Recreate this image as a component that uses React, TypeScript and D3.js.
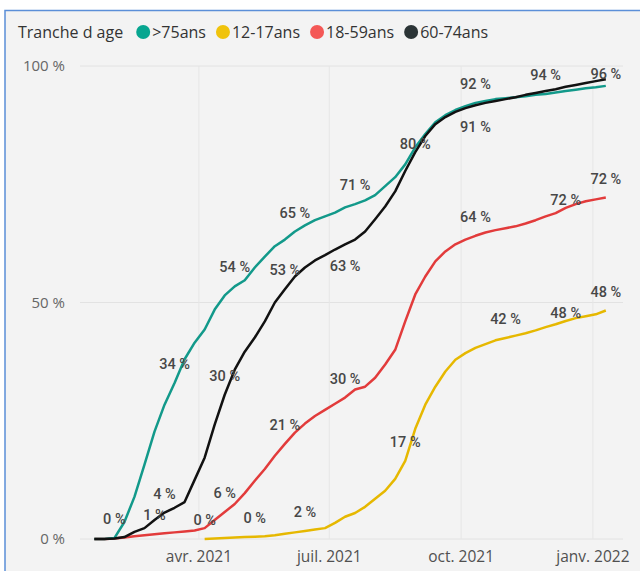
import { useRef, useEffect } from 'react';
import * as d3 from 'd3';

// weekly points, Monday 18 Jan 2021 -> Monday 10 Jan 2022
const weeks = d3.timeMonday.range(new Date(2021, 0, 18), new Date(2022, 0, 11));

const seriesNames = ['>75ans', '12-17ans', '18-59ans', '60-74ans'];

// % of the age band vaccinated (cumulative)
const over75 = [0, 0, 0.2, 3.6, 8.9, 15.7, 22.7, 28.4, 33, 38, 41.5, 44.3, 48.5, 51.5, 53.4, 54.7, 57.4, 59.7, 61.9, 63.3,
  65, 66.3, 67.4, 68.2, 69, 70.1, 70.8, 71.6, 72.7, 74.6, 76.5, 79.2, 82.8, 85.6, 88.1, 89.6, 90.7, 91.5, 92.2, 92.6,
  93, 93.2, 93.4, 93.6, 93.9, 94.1, 94.4, 94.7, 95, 95.3, 95.5, 95.8];
const age12to17 = [null, null, null, null, null, null, null, null, null, null, null,
  0, 0.1, 0.2, 0.3, 0.4, 0.5, 0.6, 0.8, 1.1, 1.4, 1.7, 2.0, 2.3, 3.4, 4.7, 5.5, 6.8, 8.5, 10.2, 12.7,
  16.5, 23.3, 28.4, 32.2, 35.4, 37.9, 39.3, 40.4, 41.2, 42.0, 42.5, 43.0, 43.5, 44.1, 44.8, 45.4, 46.1, 46.7, 47.1, 47.5, 48.3];
const age18to59 = [0, 0, 0.1, 0.3, 0.6, 0.8, 1.0, 1.2, 1.4, 1.6, 1.8, 2.3, 4.0, 5.7, 7.4, 9.7, 12.3, 14.8, 17.6, 20.1,
  22.5, 24.4, 26.0, 27.3, 28.6, 29.9, 31.6, 32.2, 34.1, 36.9, 40.0, 46.0, 51.7, 55.5, 58.7, 60.8, 62.3, 63.3, 64.1, 64.8,
  65.3, 65.7, 66.1, 66.7, 67.4, 68.2, 68.9, 70.0, 70.8, 71.4, 71.8, 72.2];
const age60to74 = [0, 0, 0.1, 0.4, 1.5, 2.3, 4.0, 5.6, 6.6, 7.8, 12.5, 17.2, 24.2, 30.5, 35.8, 39.6, 42.6, 46, 50, 52.8,
  55.5, 57.4, 58.9, 60, 61.2, 62.3, 63.3, 65, 67.6, 70.3, 73.5, 77.8, 81.8, 85.2, 87.7, 89.2, 90.3, 91.1, 91.7, 92.2,
  92.6, 93, 93.4, 93.9, 94.3, 94.7, 95.1, 95.6, 96, 96.4, 96.8, 97.2];

// data labels shown on the chart: series index, week index, text, side
const dataLabels: [number, number, string, string][] = [
  [0, 2, '0 %', 'above'], [0, 8, '34 %', 'above'], [0, 14, '54 %', 'above'], [0, 20, '65 %', 'above'],
  [0, 26, '71 %', 'above'], [0, 38, '92 %', 'above'], [0, 45, '94 %', 'above'],
  [3, 7, '4 %', 'above'], [3, 13, '30 %', 'above'], [3, 19, '53 %', 'above'], [3, 25, '63 %', 'below'],
  [3, 32, '80 %', 'on'], [3, 38, '91 %', 'below'], [3, 51, '96 %', 'above'],
  [2, 6, '1 %', 'above'], [2, 13, '6 %', 'above'], [2, 19, '21 %', 'above'], [2, 25, '30 %', 'above'],
  [2, 38, '64 %', 'above'], [2, 47, '72 %', 'on'], [2, 51, '72 %', 'above'],
  [1, 11, '0 %', 'above'], [1, 16, '0 %', 'above'], [1, 21, '2 %', 'above'], [1, 31, '17 %', 'above'],
  [1, 41, '42 %', 'above'], [1, 47, '48 %', 'on'], [1, 51, '48 %', 'above'],
];

const xTicks = [new Date(2021, 3, 1), new Date(2021, 6, 1), new Date(2021, 9, 1), new Date(2022, 0, 1)];
const xTickLabels = ['avr. 2021', 'juil. 2021', 'oct. 2021', 'janv. 2022'];
const yTicks = [0, 50, 100];

const lineColors = ['#12998a', '#e6b800', '#e23b3b', '#111111'];
const dotColors = ['#07a690', '#f0c30c', '#f45856', '#2b3436'];

export default function App() {
  const svgRef = useRef<SVGSVGElement>(null);
  const width = 640;
  const height = 571;

  useEffect(() => {
    if (!svgRef.current) return;
    const svg = d3.select(svgRef.current);
    svg.selectAll('*').remove();

    const font = '"Open Sans", sans-serif';

    // card
    svg.append('rect')
      .attr('x', 5).attr('y', 10.5)
      .attr('width', width).attr('height', height)
      .attr('fill', '#f3f3f3')
      .attr('stroke', '#5b8fd8')
      .attr('stroke-width', 1.5);

    const x = d3.scaleTime()
      .domain([new Date(2021, 0, 8), new Date(2022, 0, 22)])
      .range([80, 623]);
    const y = d3.scaleLinear().domain([0, 100]).range([539, 66]);

    const g = svg.append('g');

    // grid
    g.selectAll('.hgrid')
      .data(yTicks)
      .join('line')
      .attr('x1', 80).attr('x2', 623)
      .attr('y1', (d) => y(d)).attr('y2', (d) => y(d))
      .attr('stroke', '#e2e2e2');
    g.selectAll('.vgrid')
      .data(xTicks)
      .join('line')
      .attr('x1', (d) => x(d)).attr('x2', (d) => x(d))
      .attr('y1', y(100)).attr('y2', y(0))
      .attr('stroke', '#e6e6e6');

    // axes labels
    g.selectAll('.ylab')
      .data(yTicks)
      .join('text')
      .attr('x', 65).attr('y', (d) => y(d))
      .attr('dy', '0.35em')
      .attr('text-anchor', 'end')
      .attr('font-family', font).attr('font-size', 15)
      .attr('fill', '#666')
      .text((d) => `${d} %`);
    g.selectAll('.xlab')
      .data(xTicks)
      .join('text')
      .attr('x', (d) => x(d)).attr('y', 557)
      .attr('dy', '0.35em')
      .attr('text-anchor', 'middle')
      .attr('font-family', font).attr('font-size', 15.5)
      .attr('fill', '#505050')
      .text((_, i) => xTickLabels[i]);

    // lines
    const allSeries = [over75, age12to17, age18to59, age60to74];
    const line = d3.line<number | null>()
      .defined((d) => d !== null)
      .x((_, i) => x(weeks[i]))
      .y((d) => y(d as number))
      .curve(d3.curveLinear);

    [1, 2, 0, 3].forEach((s) => {
      g.append('path')
        .datum(allSeries[s])
        .attr('fill', 'none')
        .attr('stroke', lineColors[s])
        .attr('stroke-width', 2.5)
        .attr('stroke-linejoin', 'round')
        .attr('d', line);
    });

    // data labels
    const offsets: Record<string, number> = { above: -19, below: 22, on: -8 };
    g.selectAll('.dlab')
      .data(dataLabels)
      .join('text')
      .attr('x', (d) => x(weeks[d[1]]))
      .attr('y', (d) => Math.max(y(100) + 8, y(allSeries[d[0]][d[1]] as number) + offsets[d[3]]))
      .attr('dy', '0.35em')
      .attr('text-anchor', 'middle')
      .attr('font-family', 'Roboto, sans-serif')
      .attr('font-weight', 500)
      .attr('font-size', 14.5)
      .attr('fill', '#474747')
      .text((d) => d[2]);

    // legend
    const legend = svg.append('g').attr('transform', 'translate(18,32)');
    const title = legend.append('text')
      .attr('dy', '0.35em')
      .attr('font-family', font).attr('font-size', 16)
      .attr('fill', '#333')
      .text('Tranche d age');
    let cx = (title.node() as SVGTextElement).getComputedTextLength() + 20;
    seriesNames.forEach((name, i) => {
      legend.append('circle')
        .attr('cx', cx).attr('cy', 0).attr('r', 7)
        .attr('fill', dotColors[i]);
      const t = legend.append('text')
        .attr('x', cx + 9).attr('dy', '0.35em')
        .attr('font-family', font).attr('font-size', 16)
        .attr('fill', '#333')
        .text(name);
      cx += 9 + (t.node() as SVGTextElement).getComputedTextLength() + 17;
    });
  }, []);

  return (
    <svg ref={svgRef} width={width} height={height}
      style={{ position: 'absolute', left: 0, top: 0, background: '#fff' }} />
  );
}
